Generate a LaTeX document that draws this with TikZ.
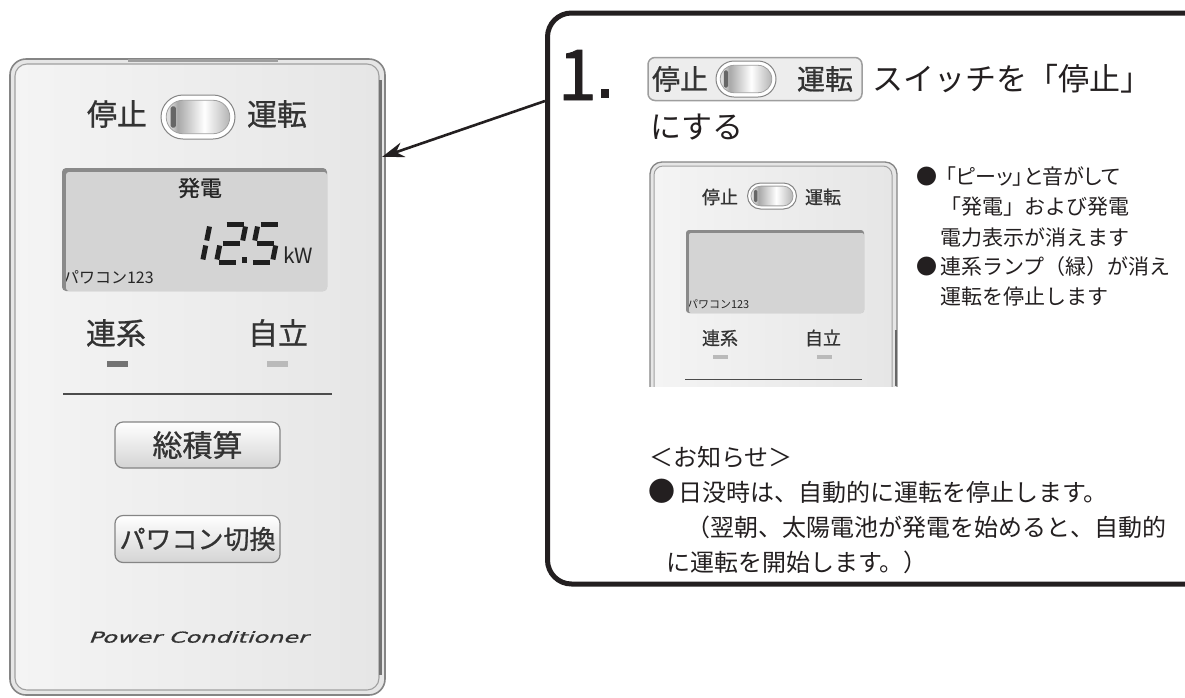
\documentclass[tikz,border=0pt]{standalone}
\usepackage{fontspec}
\setmainfont{Noto Sans CJK JP}
\newfontfamily\numfont[FakeBold=1.2]{Noto Sans CJK JP}
\newfontfamily\devfont[FakeBold=0.8]{Noto Sans CJK JP}
\newfontfamily\pfont[RawFeature=+palt]{Noto Sans CJK JP}
\newfontfamily\logofont[FakeSlant=0.25,FakeBold=0.6]{DejaVu Sans}
\usetikzlibrary{arrows.meta,shapes.misc}
\definecolor{txtg}{HTML}{333333}
\definecolor{calk}{HTML}{231F20}
\definecolor{frameg}{HTML}{858585}
\definecolor{frameg2}{HTML}{A0A0A0}
\definecolor{devbgA}{HTML}{F4F4F4}
\definecolor{devbgB}{HTML}{E6E6E6}
\definecolor{lcdface}{HTML}{D4D4D4}
\definecolor{lcdedge}{HTML}{8A8A8A}
\definecolor{tgA}{HTML}{F2F2F2}
\definecolor{tgB}{HTML}{DCDCDC}
\definecolor{tgC}{HTML}{A8A8A8}
\definecolor{tgD}{HTML}{FFFFFF}
\definecolor{tgE}{HTML}{8E8E8E}
\definecolor{tgF}{HTML}{C4C4C4}
\pgfdeclarehorizontalshading{togsh}{100bp}{color(0bp)=(tgA); color(28bp)=(tgB); color(34bp)=(tgC); color(55bp)=(tgD); color(85bp)=(tgE); color(100bp)=(tgF)}
\newcommand{\togglesw}[5]{%
  \node[rounded rectangle, draw=frameg, line width=1, fill=white, minimum width=#4, minimum height=#5] (#1) at (#2,#3) {};
  \node[rounded rectangle, draw=frameg2, line width=0.8, shading=togsh, minimum width={#4*0.86}, minimum height={#5*0.76}] (#1in) at (#2,#3) {};
  \fill[color=black!60, rounded corners=1.5] ({#2-0.37*#4},{#3-0.24*#5}) rectangle ({#2-0.30*#4},{#3+0.24*#5});
}
\tikzset{
  devouter/.style={draw=frameg, line width=1.6, fill=devbgB, rounded corners=16},
  devinner/.style={draw=frameg2, line width=1.1, left color=devbgA, right color=devbgB, rounded corners=12},
  lbl/.style={text=txtg},
  btn/.style={draw=frameg, line width=1.2, rounded corners=8, top color=white, bottom color=black!17, text=txtg},
  seg/.style={line width=5, line cap=butt, color=black!88},
  swbox/.style={draw=black!38, line width=1.5, fill=black!7, rounded corners=7},
  ctext/.style={text=calk},
}
\begin{document}
\begin{tikzpicture}[x=1pt,y=-1pt, every node/.style={inner sep=0pt, outer sep=0pt}]
\useasboundingbox (0,0) rectangle (1185,697);
\clip (0,0) rectangle (1185,697);
\fill[white] (0,0) rectangle (1185,697);

% ===== left device =====
\draw[devouter] (10,59) rectangle (385,695);
\draw[devinner] (15,64) rectangle (379,690);
\draw[line width=2.2, color=black!55] (380.5,80) -- (380.5,675);
\draw[line width=3, color=black!38] (128,60.5) -- (278,60.5);

\node[lbl, font=\devfont\fontsize{30}{30}\selectfont] (stopL) at (117,114) {停止};
\togglesw{swL}{198}{117}{74}{44}
\node[lbl, font=\devfont\fontsize{30}{30}\selectfont] (runL) at (277,114) {運転};

% LCD
\fill[lcdedge, rounded corners=4] (62,168) rectangle (327,291);
\fill[lcdface, rounded corners=3] (66,172) rectangle (327,291);
\node[lbl, font=\devfont\fontsize{22}{22}\selectfont, text=black!85] (hatsuden) at (200,188) {発電};
% seven segment digits 12.5
\begin{scope}[shift={(210,224)}, xslant=0.2]
  \draw[seg] (0,2.5) -- (0,16.5);
  \draw[seg] (0,21.5) -- (0,35.5);
\end{scope}
\begin{scope}[shift={(224,224)}, xslant=0.2]
  \draw[seg] (2.5,0) -- (19.5,0);
  \draw[seg] (22,2.5) -- (22,16.5);
  \draw[seg] (2.5,19) -- (19.5,19);
  \draw[seg] (0,21.5) -- (0,35.5);
  \draw[seg] (2.5,38) -- (19.5,38);
\end{scope}
\fill[black!88] (242,257) rectangle (247,262.5);
\begin{scope}[shift={(258,224)}, xslant=0.2]
  \draw[seg] (2.5,0) -- (19.5,0);
  \draw[seg] (0,2.5) -- (0,16.5);
  \draw[seg] (2.5,19) -- (19.5,19);
  \draw[seg] (22,21.5) -- (22,35.5);
  \draw[seg] (2.5,38) -- (19.5,38);
\end{scope}
\node[anchor=base west, font=\fontsize{21}{21}\selectfont, text=black!85] (kw) at (283,263) {kW};
\begin{scope}
  \clip (66,172) rectangle (327,291);
  \node[anchor=west, font=\fontsize{16}{16}\selectfont, text=black!85] (pwc) at (63,277) {パワコン123};
\end{scope}

\node[lbl, font=\devfont\fontsize{30}{30}\selectfont] (renkeiL) at (116,333) {連系};
\node[lbl, font=\devfont\fontsize{30}{30}\selectfont] (jiritsuL) at (278,333) {自立};
\fill[black!55] (107,361) rectangle (128,367);
\fill[black!27] (267,361) rectangle (288,367);
\draw[line width=1.2, color=black!70] (63,394) -- (332,394);

\node[btn, minimum width=165, minimum height=46, font=\devfont\fontsize{30}{30}\selectfont] (b1) at (197.5,445) {総積算};
\node[btn, minimum width=165, minimum height=47, font=\devfont\fontsize{26}{26}\selectfont] (b2) at (197.5,539) {パワコン切換};

\node[text=black!80] (logo) at (198,637) {\scalebox{1.6}[1]{\logofont\fontsize{15}{15}\selectfont Power Conditioner}};

% ===== callout =====
\draw[line width=5, color=calk, rounded corners=24] (547.5,13) rectangle (1220,584);
\coordinate (arrS) at (545,101);
\coordinate (arrE) at (382,157);
\draw[line width=2.6, color=calk, -{Stealth[length=22pt,width=15pt]}] (arrS) -- (arrE);

\node[anchor=base west, ctext, font=\numfont\fontsize{70}{70}\selectfont] (num) at (558,100) {1};
\fill[calk] (601,89) rectangle (609,98);

\node[swbox, minimum width=214, minimum height=43] (cbox) at (755,79) {};
\node[lbl, font=\devfont\fontsize{28}{28}\selectfont] (stopC) at (680,79) {停止};
\togglesw{swC}{746}{79}{60}{36}
\node[lbl, font=\devfont\fontsize{28}{28}\selectfont] (runC) at (825,79) {運転};
\node[anchor=west, ctext, font=\fontsize{31}{31}\selectfont] (t1) at (872,79) {スイッチを「停止」};
\node[anchor=west, ctext, font=\fontsize{31}{31}\selectfont] (t2) at (650,127) {にする};

% mini device
\begin{scope}
  \clip (640,150) rectangle (905,386);
  \draw[devouter, line width=1.3, rounded corners=12] (650,162) rectangle (897,420);
  \draw[devinner, line width=1, rounded corners=9] (654,166) rectangle (892,416);
  \draw[line width=2, color=black!60] (896,330) -- (896,386);
  \node[lbl, font=\devfont\fontsize{18}{18}\selectfont] (stopM) at (720,197) {停止};
  \togglesw{swM}{772}{196}{49}{26}
  \node[lbl, font=\devfont\fontsize{18}{18}\selectfont] (runM) at (823,197) {運転};
  \fill[lcdedge, rounded corners=3] (686,230) rectangle (864,313);
  \fill[lcdface, rounded corners=2] (689,233) rectangle (864,313);
  \begin{scope}
    \clip (689,233) rectangle (864,313);
    \node[anchor=west, font=\fontsize{11}{11}\selectfont, text=black!85] (pwcM) at (687,304) {パワコン123};
  \end{scope}
  \node[lbl, font=\devfont\fontsize{18}{18}\selectfont] (renkeiM) at (720,338) {連系};
  \node[lbl, font=\devfont\fontsize{18}{18}\selectfont] (jiritsuM) at (823,338) {自立};
  \fill[black!27] (713,355) rectangle (728,359);
  \fill[black!27] (817,355) rectangle (832,359);
  \draw[line width=1, color=black!70] (685,379) -- (862,379);
\end{scope}

% bullets right
\node[ctext, font=\fontsize{21}{21}\selectfont] (bu1) at (927,177) {●};
\node[anchor=west, ctext, font=\pfont\fontsize{21}{21}\selectfont] (r1) at (946,177) {「ピーッ」と音がして};
\node[anchor=west, ctext, font=\fontsize{21}{21}\selectfont] (r2) at (940,207) {「発電」および発電};
\node[anchor=west, ctext, font=\fontsize{21}{21}\selectfont] (r3) at (940,237) {電力表示が消えます};
\node[ctext, font=\fontsize{21}{21}\selectfont] (bu2) at (927,267) {●};
\node[anchor=west, ctext, font=\fontsize{21}{21}\selectfont] (r4) at (940,267) {連系ランプ（緑）が消え};
\node[anchor=west, ctext, font=\fontsize{21}{21}\selectfont] (r5) at (940,297) {運転を停止します};

% notes
\node[anchor=west, ctext, font=\fontsize{24}{24}\selectfont] (n0) at (649,457) {＜お知らせ＞};
\node[ctext, font=\fontsize{27}{27}\selectfont] (bu3) at (662,491) {●};
\node[anchor=west, ctext, font=\fontsize{24}{24}\selectfont] (n1) at (678,492) {日没時は、自動的に運転を停止します。};
\node[anchor=east, ctext, font=\fontsize{24}{24}\selectfont] (n2) at (1166,527) {（翌朝、太陽電池が発電を始めると、自動的};
\node[anchor=west, ctext, font=\fontsize{24}{24}\selectfont] (n3) at (666,562) {に運転を開始します。）};
\end{tikzpicture}
\end{document}
